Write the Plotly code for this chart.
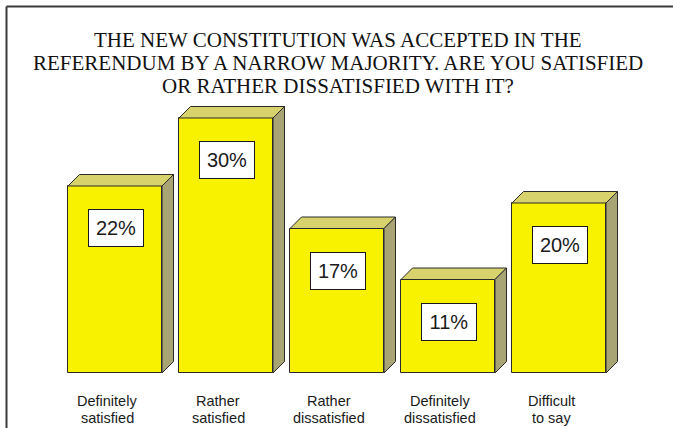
import plotly.graph_objects as go

# Survey answers and their shares (%)
categories = ["Definitely<br>satisfied", "Rather<br>satisfied", "Rather<br>dissatisfied",
              "Definitely<br>dissatisfied", "Difficult<br>to say"]
shares = [22, 30, 17, 11, 20]
title_lines = ["THE NEW CONSTITUTION WAS ACCEPTED IN THE",
               "REFERENDUM BY A NARROW MAJORITY. ARE YOU SATISFIED",
               "OR RATHER DISSATISFIED WITH IT?"]

W, H = 673, 428
FRONT = "#F8F200"
TOP = "#D7D26C"
SIDE = "#A9A473"
EDGE = "#2a2a2a"

# axis scale: one category = 111 px, 1 % = 8.5 px, baseline at 373 px
PX_X = 111.0
PX_Y = 8.5
x_range = [-115 / PX_X, (W - 115) / PX_X]
y_range = [-(H - 373) / PX_Y, 373 / PX_Y]

bar_w = 94 / PX_X
dx = 11.5 / PX_X
dy = 11.5 / PX_Y

fig = go.Figure()

xs = list(range(len(shares)))

# 3-D depth faces (top and right side) for each bar
for i, v in zip(xs, shares):
    xl, xr = i - bar_w / 2, i + bar_w / 2
    fig.add_trace(go.Scatter(
        x=[xl, xr, xr + dx, xl + dx, xl], y=[v, v, v + dy, v + dy, v],
        fill="toself", fillcolor=TOP, mode="lines",
        line=dict(color=EDGE, width=1), hoverinfo="skip", showlegend=False))
    fig.add_trace(go.Scatter(
        x=[xr, xr, xr + dx, xr + dx, xr], y=[0, v, v + dy, dy, 0],
        fill="toself", fillcolor=SIDE, mode="lines",
        line=dict(color=EDGE, width=1), hoverinfo="skip", showlegend=False))

# front faces
fig.add_trace(go.Bar(
    x=xs, y=shares, width=bar_w, marker=dict(color=FRONT, line=dict(color=EDGE, width=1)),
    hoverinfo="skip", showlegend=False))

annotations = []
# value boxes
for i, v in zip(xs, shares):
    annotations.append(dict(
        x=i, y=v, xref="x", yref="y", text=f"{v}%", showarrow=False,
        xanchor="center", yanchor="top", yshift=-23, xshift=1,
        font=dict(family="Liberation Sans, Arial", size=20, color="#1a1a1a"),
        bgcolor="white", bordercolor="#1a1a1a", borderwidth=1, borderpad=0,
        width=54, height=36))

# category labels
for i, c in zip(xs, categories):
    for k, part in enumerate(c.split("<br>")):
        annotations.append(dict(
            x=i, y=1 - (401 + 16.5 * k) / H, xref="x", yref="paper", text=part,
            showarrow=False, xanchor="center", yanchor="middle", xshift=-8,
            font=dict(family="Liberation Sans, Arial", size=14.5, color="#1a1a1a")))

# title
for k, line in enumerate(title_lines):
    annotations.append(dict(
        x=338 / W, y=1 - (39.5 + 23.3 * k) / H, xref="paper", yref="paper", text=line,
        showarrow=False, xanchor="center", yanchor="middle",
        font=dict(family="Liberation Serif, Times New Roman", size=21, color="#111111")))

shapes = [
    dict(type="line", xref="paper", yref="paper", x0=6.5 / W, x1=1, y0=1 - 6.5 / H, y1=1 - 6.5 / H,
         line=dict(color="#3a3a3a", width=2)),
    dict(type="line", xref="paper", yref="paper", x0=6.5 / W, x1=6.5 / W, y0=0, y1=1 - 6.5 / H,
         line=dict(color="#3a3a3a", width=2)),
]

fig.update_layout(
    width=W, height=H, margin=dict(l=0, r=0, t=0, b=0),
    paper_bgcolor="white", plot_bgcolor="white",
    xaxis=dict(range=x_range, visible=False, fixedrange=True),
    yaxis=dict(range=y_range, visible=False, fixedrange=True),
    annotations=annotations, shapes=shapes, bargap=0)

fig.write_html("out.html", config={"displayModeBar": False})
